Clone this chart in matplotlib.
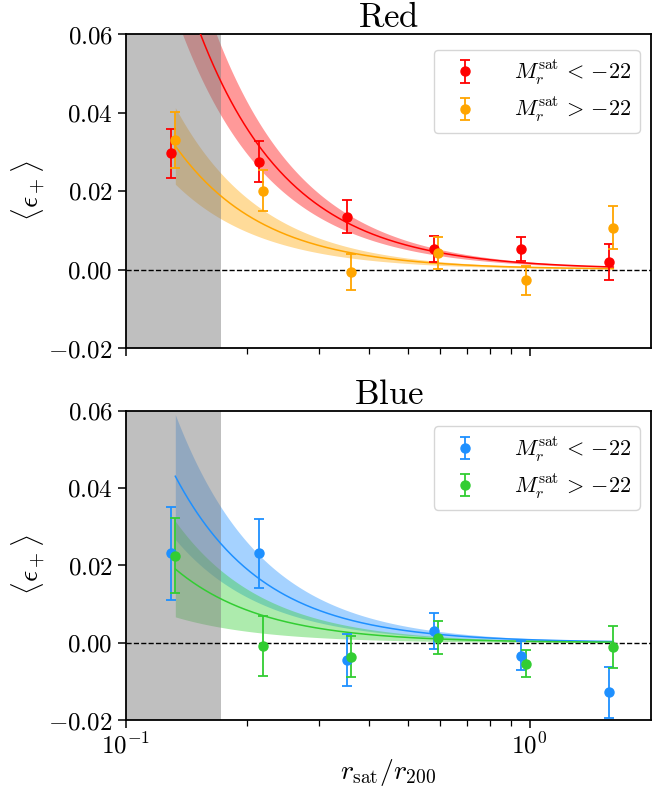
import numpy as np
import matplotlib
matplotlib.use('Agg')
import matplotlib.pyplot as plt
from matplotlib.ticker import FuncFormatter, FixedLocator

plt.rcParams['mathtext.fontset'] = 'cm'
plt.rcParams['font.family'] = ['DejaVu Serif']

# ---------------- data ----------------
r_bright = [0.129, 0.213, 0.352, 0.579, 0.954, 1.573]
r_faint = [0.1325, 0.2185, 0.3605, 0.5935, 0.979, 1.613]

red_y = [0.0296, 0.0275, 0.0134, 0.0052, 0.0052, 0.0020]
red_err = [0.0063, 0.0053, 0.0042, 0.0034, 0.0031, 0.0046]
orange_y = [0.0330, 0.0201, -0.0006, 0.0042, -0.0028, 0.0107]
orange_err = [0.0071, 0.0053, 0.0046, 0.0041, 0.0036, 0.0056]

blue_y = [0.0231, 0.0231, -0.0045, 0.0030, -0.0034, -0.0128]
blue_err = [0.0120, 0.0089, 0.0068, 0.0046, 0.0038, 0.0066]
green_y = [0.0225, -0.0009, -0.0036, 0.0013, -0.0054, -0.0012]
green_err = [0.0097, 0.0078, 0.0054, 0.0042, 0.0036, 0.0054]

# power-law fits  eps = A * r**(-alpha), band = A*[lo, hi]
red_fit = dict(A=0.00160, alpha=1.93, lo=0.82, hi=1.19)
orange_fit = dict(A=0.000553, alpha=2.0, lo=0.69, hi=1.31)
blue_fit = dict(A=0.000755, alpha=2.0, lo=0.62, hi=1.37)
green_fit = dict(A=0.000334, alpha=2.0, lo=0.35, hi=1.65)

excluded_r = 0.172
labels = [r'$M_r^{\rm sat}\,{<}\,{-}22$', r'$M_r^{\rm sat}\,{>}\,{-}22$']

W, H = 662, 787
fig = plt.figure(figsize=(W / 100, H / 100), dpi=100)
ax_top = fig.add_axes([126 / W, 1 - 348 / H, 525 / W, 314 / H])
ax_bot = fig.add_axes([126 / W, 1 - 720 / H, 525 / W, 309.5 / H], sharex=ax_top)


def draw(ax, title, series):
    rr = np.geomspace(r_faint[0], r_faint[-1], 300)
    handles = []
    for (r, y, e, c, fit) in series:
        model = fit['A'] * rr ** (-fit['alpha'])
        ax.fill_between(rr, model * fit['lo'], model * fit['hi'], color=c,
                        alpha=0.4, lw=0, zorder=1)
        ax.plot(rr, model, color=c, lw=1.1, zorder=3)
    ax.axvspan(0.1, excluded_r, color='gray', alpha=0.5, lw=0, zorder=2)
    ax.axhline(0, color='black', ls='--', lw=1.0, zorder=2.5)
    for (r, y, e, c, fit), lab in zip(series, labels):
        h = ax.errorbar(r, y, yerr=e, fmt='o', color=c, ms=6.5, capsize=3.5,
                        elinewidth=1.3, capthick=1.3, zorder=5, label=lab)
        handles.append(h)
    ax.set_xscale('log')
    ax.set_xlim(0.1, 2.0)
    ax.set_ylim(-0.02, 0.06)
    ax.yaxis.set_major_locator(FixedLocator([-0.02, 0.0, 0.02, 0.04, 0.06]))
    ax.yaxis.set_major_formatter(FuncFormatter(lambda v, p: '$%.2f$' % v))
    ax.xaxis.set_major_locator(FixedLocator([0.1, 1.0]))
    ax.xaxis.set_minor_locator(FixedLocator([0.2, 0.3, 0.4, 0.5, 0.6, 0.7, 0.8, 0.9]))
    ax.xaxis.set_major_formatter(FuncFormatter(
        lambda v, p: '$10^{%d}$' % int(round(np.log10(v)))))
    ax.xaxis.set_minor_formatter(FuncFormatter(lambda v, p: ''))
    ax.tick_params(which='major', direction='out', length=6, width=1.1,
                   labelsize=18, top=False, right=False)
    ax.tick_params(which='minor', direction='out', length=4, width=0.9,
                   top=False, right=False)
    for s in ax.spines.values():
        s.set_linewidth(1.3)
    ax.set_title(r'$\mathrm{' + title + '}$', fontsize=25, pad=3)
    ax.set_ylabel(r'$\langle \epsilon_+ \rangle$', fontsize=20, labelpad=1)
    ax.legend(handles=handles, loc='upper right', fontsize=16,
              bbox_to_anchor=(1.0, 0.985), borderaxespad=0.5,
              labelspacing=0.4, handletextpad=1.2)


draw(ax_top, 'Red', [(r_bright, red_y, red_err, 'red', red_fit),
                     (r_faint, orange_y, orange_err, 'orange', orange_fit)])
draw(ax_bot, 'Blue', [(r_bright, blue_y, blue_err, 'dodgerblue', blue_fit),
                      (r_faint, green_y, green_err, 'limegreen', green_fit)])
ax_top.tick_params(labelbottom=False)
ax_bot.set_xlabel(r'$r_{\rm sat}/r_{200}$', fontsize=20, labelpad=-1)

fig.savefig('out.png', dpi=100)
